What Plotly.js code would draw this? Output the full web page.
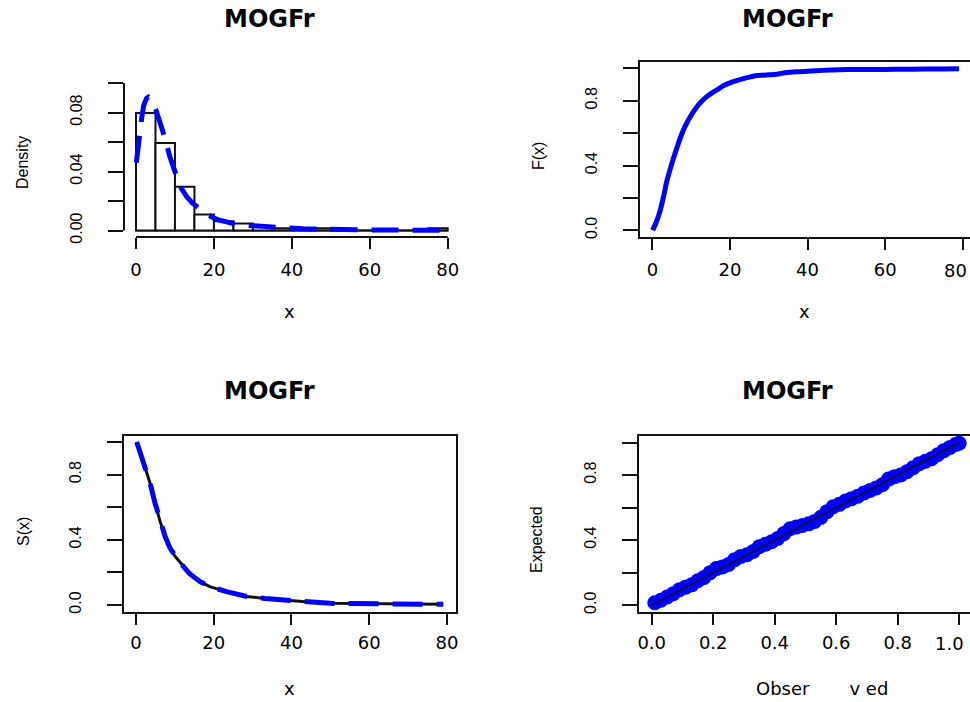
<!DOCTYPE html>
<html>
<head>
<meta charset="utf-8">
<script src="https://cdn.plot.ly/plotly-3.0.1.min.js"></script>
<style>html,body{margin:0;padding:0;background:#fff;}#chart{width:970px;height:702px;}</style>
</head>
<body>
<div id="chart"></div>
<script>
// ---- data ----
const panelTitle = "MOGFr";
// histogram (density scale), bins of width 5 starting at these values
const binStart = [0, 5, 10, 15, 20, 25, 30, 35, 40, 45, 50, 55, 60, 65, 70, 75];
const binWidth = 5;
const binDensity = [0.0797, 0.0594, 0.0297, 0.0109, 0.0063, 0.0047, 0.0031, 0.0016, 0.0016, 0.0016, 0, 0, 0, 0, 0, 0.0016];
// fitted density curve
const densX = [0.08, 0.5, 1.0, 1.5, 2.0, 2.7, 3.2, 4.0, 5.1, 6.0, 6.8, 8.7, 10, 11.3, 13, 14.5, 16.5, 18.5, 20.7, 23, 25, 28, 31, 35, 39, 43, 46.4, 50, 55, 60, 65, 70, 75, 80];
const densY = [0.046, 0.057, 0.067, 0.077, 0.085, 0.0896, 0.0905, 0.089, 0.0818, 0.075, 0.068, 0.050, 0.040, 0.030, 0.023, 0.0185, 0.0145, 0.0105, 0.0076, 0.0058, 0.0047, 0.0036, 0.0029, 0.0022, 0.0017, 0.0012, 0.0009, 0.0007, 0.0005, 0.0004, 0.0003, 0.0002, 0.0002, 0.0001];
// cumulative distribution
const cdfX = [0.08, 1, 2, 3, 3.7, 5, 6.2, 7.5, 8.5, 10, 11.4, 12.5, 14, 15.5, 17, 18.5, 20.5, 22.6, 25, 27, 30, 32, 34.6, 38, 42, 46, 50, 55, 60, 65, 70, 75, 79.05];
const cdfY = [0.0, 0.05, 0.12, 0.22, 0.30, 0.41, 0.50, 0.59, 0.645, 0.71, 0.76, 0.79, 0.825, 0.85, 0.872, 0.895, 0.915, 0.93, 0.945, 0.955, 0.96, 0.963, 0.974, 0.979, 0.984, 0.99, 0.993, 0.992, 0.993, 0.994, 0.995, 0.996, 0.997];
// survival function
const survX = [0.2, 1.2, 2.3, 3.6, 4.9, 6.2, 7.5, 8.75, 10, 11.3, 12.6, 13.9, 16.5, 19, 23.3, 28.5, 33.2, 38, 42.2, 46, 50, 55, 60, 65, 70, 75, 79.05];
const survY = [1.0, 0.93, 0.84, 0.75, 0.626, 0.513, 0.42, 0.349, 0.30, 0.262, 0.225, 0.19, 0.143, 0.113, 0.082, 0.052, 0.04, 0.03, 0.02, 0.015, 0.01, 0.009, 0.008, 0.007, 0.006, 0.005, 0.004];
// P-P plot
const ppObserved = [0.01,0.03,0.05,0.07,0.09,0.11,0.13,0.15,0.17,0.19,0.21,0.23,0.25,0.27,0.29,0.31,0.33,0.35,0.37,0.39,0.41,0.43,0.45,0.47,0.49,0.51,0.53,0.55,0.57,0.59,0.61,0.63,0.65,0.67,0.69,0.71,0.73,0.75,0.77,0.79,0.81,0.83,0.85,0.87,0.89,0.91,0.93,0.95,0.97,0.99,1.00];
const ppExpected = [0.015,0.03,0.05,0.07,0.095,0.11,0.125,0.15,0.17,0.2,0.225,0.235,0.25,0.28,0.3,0.31,0.33,0.36,0.375,0.39,0.41,0.44,0.47,0.48,0.49,0.5,0.515,0.54,0.575,0.605,0.62,0.64,0.655,0.67,0.69,0.705,0.72,0.74,0.775,0.79,0.8,0.82,0.845,0.87,0.885,0.9,0.925,0.95,0.97,0.99,0.995];
const diagLine = [0, 1];
// ticks
const histYTicks = [0, 0.02, 0.04, 0.06, 0.08, 0.10];
const histYText = ["0.00", "", "0.04", "", "0.08", ""];
const xTicks80 = [0, 20, 40, 60, 80];
const xText80 = ["0", "20", "40", "60", "80"];
const xText80Edge = ["0", "20", "40", "60", ""];   // last label drawn nudged inside the edge
const probTicks = [0, 0.2, 0.4, 0.6, 0.8, 1.0];
const probYText = ["0.0", "", "0.4", "", "0.8", ""];
const probXTextEdge = ["0.0", "0.2", "0.4", "0.6", "0.8", ""];
const edgeLabelTR = "80";
const edgeLabelBR = "1.0";

// ---- layout helpers ----
const W = 970, H = 702;
const fx = p => p / W;
const fy = p => 1 - p / H;
const BLUE = "#0000ff";
const INK = "#111111";
const horizFont = {family: "DejaVu Sans", size: 18, color: "#000"};
const vertFont = {family: "Liberation Sans, Arial, sans-serif", size: 16, color: "#000"};

function xAxis(dom, rng, vals, text, anchor, box, standoff) {
  return {
    domain: [fx(dom[0]), Math.min(1, fx(dom[1]))], range: rng, anchor: anchor,
    tickmode: "array", tickvals: vals, ticktext: text,
    ticks: "outside", ticklen: 11, tickwidth: 2, tickcolor: INK,
    showline: box, mirror: box, linewidth: 2, linecolor: INK,
    showgrid: false, zeroline: false, tickfont: horizFont, ticklabelstandoff: standoff,
    ticklabeloverflow: "allow", fixedrange: true
  };
}
function yAxis(dom, rng, vals, text, anchor, box) {
  return {
    domain: [fy(dom[1]), fy(dom[0])], range: rng, anchor: anchor,
    tickmode: "array", tickvals: vals, ticktext: text,
    ticks: "outside", ticklen: 15, tickwidth: 2, tickcolor: INK,
    showline: box, mirror: box, linewidth: 2, linecolor: INK,
    showgrid: false, zeroline: false, tickfont: vertFont, tickangle: -90,
    ticklabelstandoff: 20, ticklabeloverflow: "allow", fixedrange: true
  };
}

const traces = [
  {type: "bar", x: binStart, y: binDensity, width: binWidth, offset: 0,
   marker: {color: "#ffffff", line: {color: INK, width: 2}}, xaxis: "x", yaxis: "y", hoverinfo: "skip"},
  {type: "scatter", mode: "lines", x: densX, y: densY, line: {color: BLUE, width: 5, dash: "27px,14px"},
   xaxis: "x", yaxis: "y"},
  {type: "scatter", mode: "lines", x: cdfX, y: cdfY, line: {color: BLUE, width: 5, shape: "spline", smoothing: 0.6}, xaxis: "x2", yaxis: "y2"},
  {type: "scatter", mode: "lines", x: survX, y: survY, line: {color: INK, width: 3}, xaxis: "x3", yaxis: "y3"},
  {type: "scatter", mode: "lines", x: survX, y: survY, line: {color: BLUE, width: 5, dash: "30px,14px"}, xaxis: "x3", yaxis: "y3"},
  {type: "scatter", mode: "markers", x: ppObserved, y: ppExpected, marker: {color: BLUE, size: 15, line: {width: 0}},
   xaxis: "x4", yaxis: "y4"},
  {type: "scatter", mode: "lines", x: diagLine, y: diagLine, line: {color: INK, width: 1.5}, xaxis: "x4", yaxis: "y4"}
];

const lastEdge = binStart[binStart.length - 1] + binWidth;
const shapes = [
  {type: "line", xref: "x domain", yref: "y", x0: 0, x1: 0, y0: histYTicks[0], y1: histYTicks[histYTicks.length - 1], line: {color: INK, width: 2}},
  {type: "line", xref: "x", yref: "y domain", x0: xTicks80[0], x1: xTicks80[xTicks80.length - 1], y0: 0, y1: 0, line: {color: INK, width: 2}},
  {type: "line", xref: "x", yref: "y", x0: binStart[0], x1: lastEdge, y0: 0, y1: 0, line: {color: INK, width: 2}, layer: "below"}
];

function ann(text, x, y, font, angle) {
  return {text: text, xref: "paper", yref: "paper", x: fx(x), y: fy(y), xanchor: "center", yanchor: "middle",
          showarrow: false, font: font, textangle: angle || 0};
}
const titleFont = {family: "DejaVu Sans", size: 24, color: "#000", weight: "bold"};
const annotations = [
  ann("<b>" + panelTitle + "</b>", 269, 19, titleFont),
  ann("<b>" + panelTitle + "</b>", 787, 19, titleFont),
  ann("<b>" + panelTitle + "</b>", 269, 391, titleFont),
  ann("<b>" + panelTitle + "</b>", 787, 391, titleFont),
  ann("x", 289, 311, horizFont),
  ann("x", 804, 311, horizFont),
  ann("x", 289, 688, horizFont),
  ann("Obser\u00a0\u00a0\u00a0\u00a0\u00a0\u00a0\u00a0v ed", 822, 688, horizFont),
  ann("Density", 22, 163, vertFont, -90),
  ann("F(x)", 538, 156, vertFont, -90),
  ann("S(x)", 23, 532, vertFont, -90),
  ann("Expected", 536, 540, vertFont, -90),
  ann(edgeLabelTR, 955, 270, horizFont),
  ann(edgeLabelBR, 949, 643, horizFont)
];

const layout = {
  width: W, height: H, margin: {l: 0, r: 0, t: 0, b: 0, pad: 0},
  paper_bgcolor: "#ffffff", plot_bgcolor: "rgba(0,0,0,0)", showlegend: false, bargap: 0,
  xaxis: xAxis([124, 459], [-3.08, 82.9], xTicks80, xText80, "y", false, 5),
  yaxis: yAxis([61.8, 237], [-0.0044, 0.1144], histYTicks, histYText, "x", false),
  xaxis2: xAxis([640.4, 970], [-3.08, 81.87], xTicks80, xText80Edge, "y2", true, 5),
  yaxis2: yAxis([61.8, 236.8], [-0.04, 1.04], probTicks, probYText, "x2", true),
  xaxis3: xAxis([124, 455.5], [-3.08, 82.21], xTicks80, xText80, "y3", true, 3),
  yaxis3: yAxis([435.5, 611.5], [-0.04, 1.04], probTicks, probYText, "x3", true),
  xaxis4: xAxis([639.4, 970], [-0.04, 1.035], probTicks, probXTextEdge, "y4", true, 3),
  yaxis4: yAxis([436, 611.7], [-0.04, 1.04], probTicks, probYText, "x4", true),
  shapes: shapes, annotations: annotations
};

Plotly.newPlot("chart", traces, layout, {staticPlot: true, displayModeBar: false});
</script>
</body>
</html>
